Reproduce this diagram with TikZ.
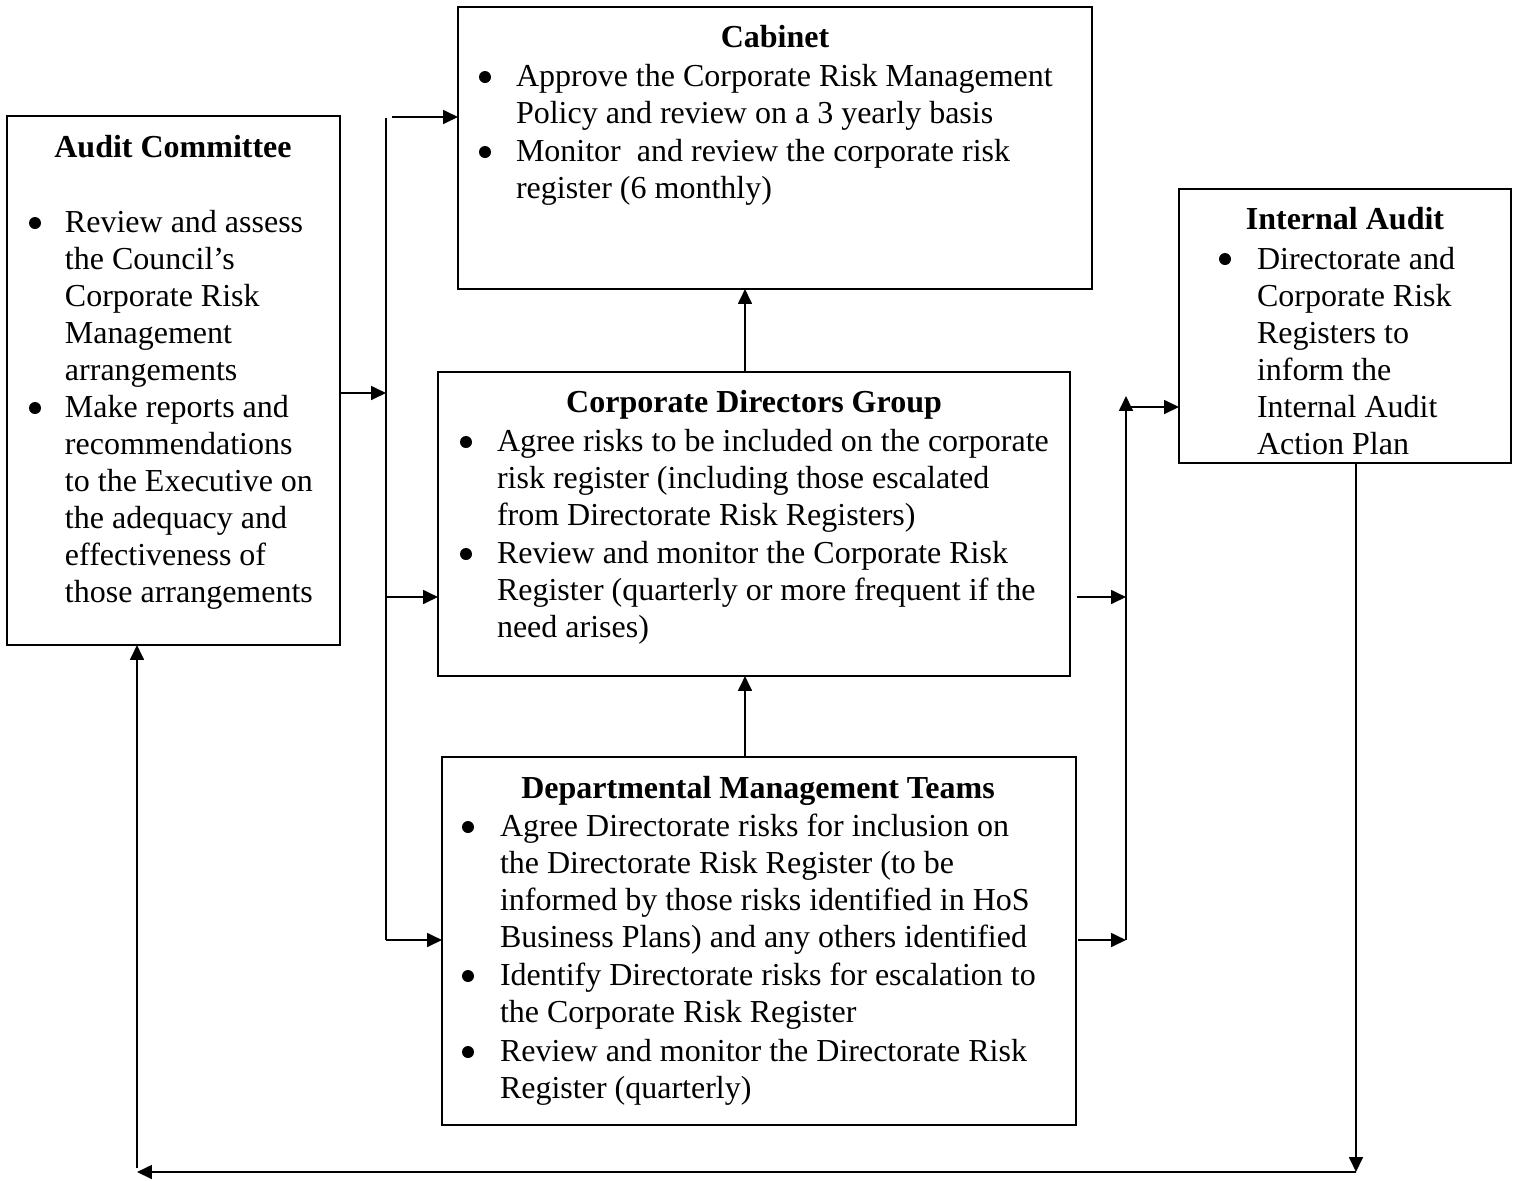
\documentclass[tikz,border=0pt]{standalone}
\usepackage{fontspec}
\setmainfont{Liberation Serif}
\usetikzlibrary{arrows.meta}
\begin{document}
\begin{tikzpicture}[x=0.375pt,y=-0.375pt,
  box/.style={draw,line width=0.75pt,inner sep=0pt,outer sep=0pt,anchor=north west},
  txt/.style={inner sep=0pt,outer sep=0pt,anchor=base west,font=\fontsize{12}{13.9}\selectfont},
  ttl/.style={inner sep=0pt,outer sep=0pt,anchor=base,font=\fontsize{12}{13.9}\selectfont\bfseries},
  bul/.style={circle,fill=black,inner sep=0pt,outer sep=0pt,minimum size=4.5pt},
  arr/.style={line width=0.75pt,-{Triangle[length=5.6pt,width=5.2pt]}},
  ln/.style={line width=0.75pt}]
\useasboundingbox (0,0) rectangle (1516,1180);
% boxes
\node[box,minimum width={634*0.375pt},minimum height={282*0.375pt}] (cab) at (458,7) {};
\node[box,minimum width={333*0.375pt},minimum height={529*0.375pt}] (audit) at (7,116) {};
\node[box,minimum width={332*0.375pt},minimum height={274*0.375pt}] (ia) at (1179,189) {};
\node[box,minimum width={632*0.375pt},minimum height={304*0.375pt}] (cdg) at (438,372) {};
\node[box,minimum width={634*0.375pt},minimum height={368*0.375pt}] (dmt) at (442,757) {};
% Cabinet
\node[ttl] (cabT) at (775,47) {Cabinet};
\node[bul] (cabB1) at (485,77) {};
\node[txt] (cabI1) at (516,86) {\begin{tabular}[t]{@{}l@{}}Approve the Corporate Risk Management\\Policy and review on a 3 yearly basis\end{tabular}};
\node[bul] (cabB2) at (485,152) {};
\node[txt] (cabI2) at (516,161) {\begin{tabular}[t]{@{}l@{}}Monitor\ \ and review the corporate risk\\register (6 monthly)\end{tabular}};
% Audit Committee
\node[ttl] (auditT) at (173,157) {Audit Committee};
\node[bul] (auditB1) at (35,223) {};
\node[txt] (auditI1) at (65,232) {\begin{tabular}[t]{@{}l@{}}Review and assess\\the Council’s\\Corporate Risk\\Management\\arrangements\end{tabular}};
\node[bul] (auditB2) at (35,408) {};
\node[txt] (auditI2) at (65,417) {\begin{tabular}[t]{@{}l@{}}Make reports and\\recommendations\\to the Executive on\\the adequacy and\\effectiveness of\\those arrangements\end{tabular}};
% Internal Audit
\node[ttl] (iaT) at (1345,229) {Internal Audit};
\node[bul] (iaB1) at (1225,259) {};
\node[txt] (iaI1) at (1257,269) {\begin{tabular}[t]{@{}l@{}}Directorate and\\Corporate Risk\\Registers to\\inform the\\Internal Audit\\Action Plan\end{tabular}};
% Corporate Directors Group
\node[ttl] (cdgT) at (754,412) {Corporate Directors Group};
\node[bul] (cdgB1) at (466,442) {};
\node[txt] (cdgI1) at (497,451) {\begin{tabular}[t]{@{}l@{}}Agree risks to be included on the corporate\\risk register (including those escalated\\from Directorate Risk Registers)\end{tabular}};
\node[bul] (cdgB2) at (466,554) {};
\node[txt] (cdgI2) at (497,563) {\begin{tabular}[t]{@{}l@{}}Review and monitor the Corporate Risk\\Register (quarterly or more frequent if the\\need arises)\end{tabular}};
% Departmental Management Teams
\node[ttl] (dmtT) at (758,798) {Departmental Management Teams};
\node[bul] (dmtB1) at (468,827) {};
\node[txt] (dmtI1) at (500,836) {\begin{tabular}[t]{@{}l@{}}Agree Directorate risks for inclusion on\\the Directorate Risk Register (to be\\informed by those risks identified in HoS\\Business Plans) and any others identified\end{tabular}};
\node[bul] (dmtB2) at (468,976) {};
\node[txt] (dmtI2) at (500,985) {\begin{tabular}[t]{@{}l@{}}Identify Directorate risks for escalation to\\the Corporate Risk Register\end{tabular}};
\node[bul] (dmtB3) at (468,1052) {};
\node[txt] (dmtI3) at (500,1061) {\begin{tabular}[t]{@{}l@{}}Review and monitor the Directorate Risk\\Register (quarterly)\end{tabular}};
% connector coordinates
\coordinate (busTop) at (386,118);
\coordinate (busBot) at (386,940);
\coordinate (busA) at (386,393);
\coordinate (busC) at (386,597);
\coordinate (cabIn) at (392,117);
\coordinate (midx) at (745,0);
\coordinate (cdgOut) at (1077,597);
\coordinate (dmtOut) at (1078,940);
\coordinate (rbusC) at (1126,597);
\coordinate (rbusBot) at (1126,940);
\coordinate (rbusTop) at (1126,396);
\coordinate (rbusIA) at (1126,407);
\coordinate (botR) at (1356,1172);
\coordinate (botL) at (137,1172);
\coordinate (acUp) at (137,1168);
% connectors
\draw[ln] (busTop) -- (busBot);
\draw[arr] (cabIn) -- (cab.west |- cabIn);
\draw[arr] (audit.east |- busA) -- (busA);
\draw[arr] (busC) -- (cdg.west |- busC);
\draw[arr] (busBot) -- (dmt.west |- busBot);
\draw[arr] (cdg.north -| midx) -- (cab.south -| midx);
\draw[arr] (dmt.north -| midx) -- (cdg.south -| midx);
\draw[arr] (cdgOut) -- (rbusC);
\draw[arr] (dmtOut) -- (rbusBot);
\draw[arr] (rbusBot) -- (rbusTop);
\draw[arr] (rbusIA) -- (ia.west |- rbusIA);
\draw[arr] (ia.south -| botR) -- (botR);
\draw[arr] (botR) -- (botL);
\draw[arr] (acUp) -- (audit.south -| acUp);
\end{tikzpicture}
\end{document}
